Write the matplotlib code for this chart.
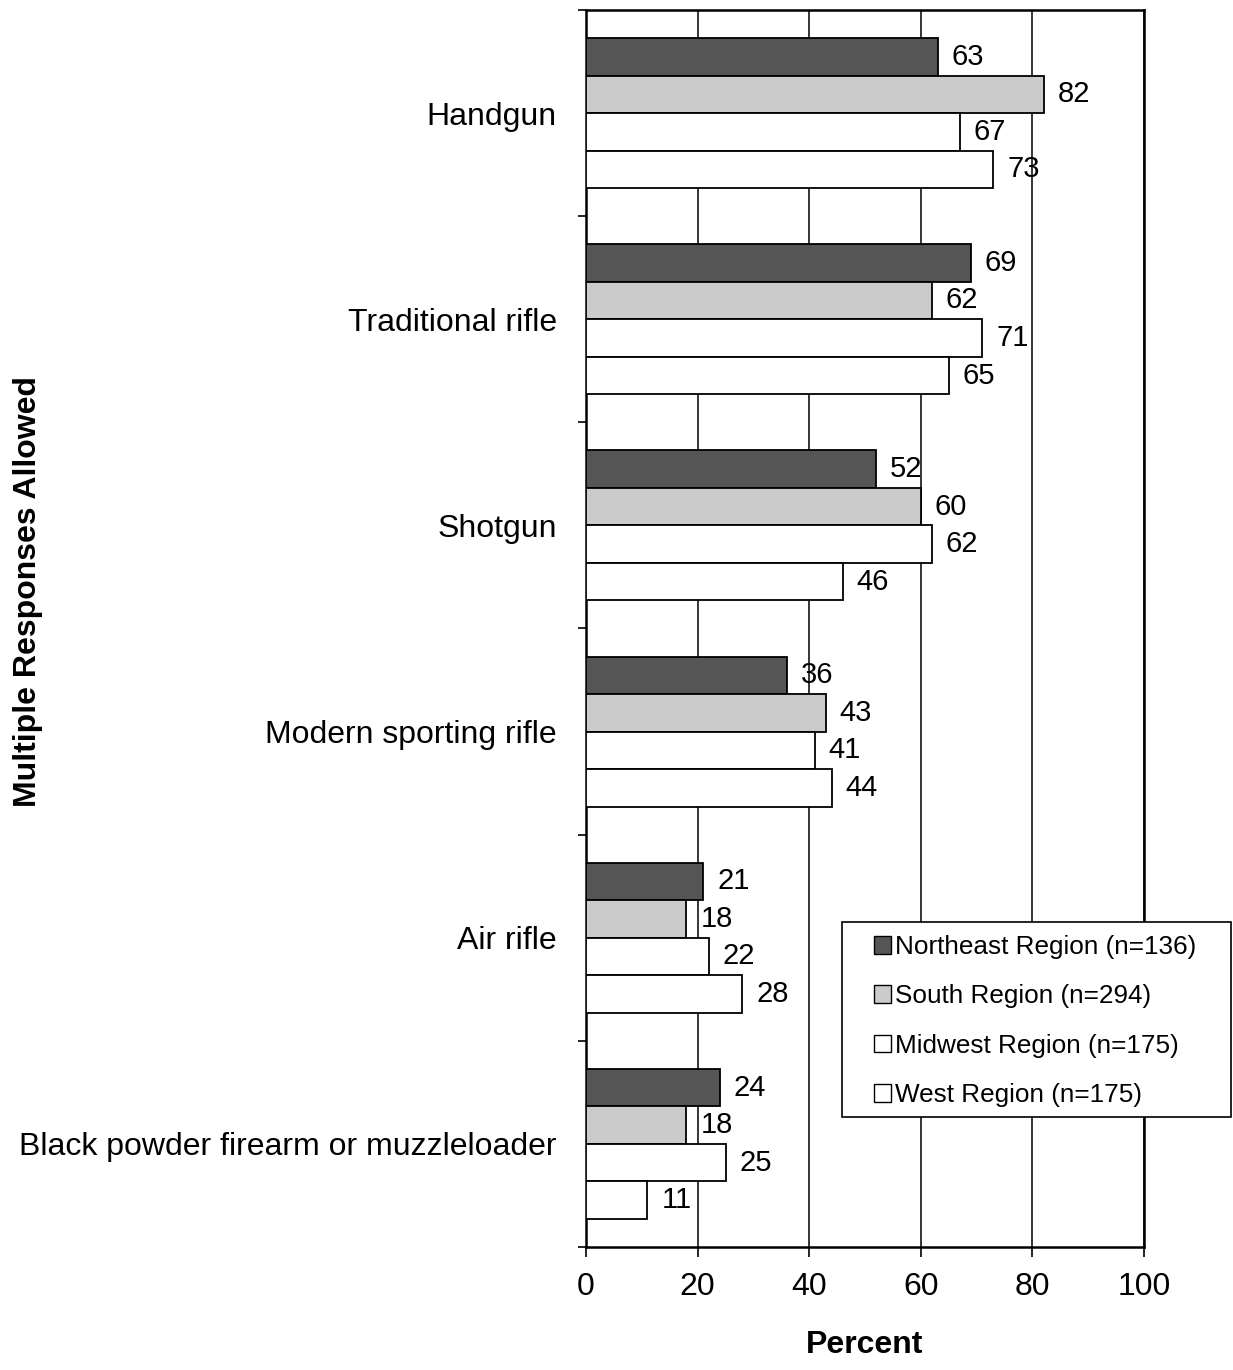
import numpy as np
import matplotlib.pyplot as plt
from matplotlib.patches import Patch, Rectangle

plt.rcParams['font.family'] = ['Liberation Sans', 'DejaVu Sans']

# Data
categories = ['Handgun', 'Traditional rifle', 'Shotgun', 'Modern sporting rifle',
              'Air rifle', 'Black powder firearm or muzzleloader']
northeast = [63, 69, 52, 36, 21, 24]
south = [82, 62, 60, 43, 18, 18]
midwest = [67, 71, 62, 41, 22, 25]
west = [73, 65, 46, 44, 28, 11]
series_names = ['Northeast Region (n=136)', 'South Region (n=294)',
                'Midwest Region (n=175)', 'West Region (n=175)']
x_ticks = [0, 20, 40, 60, 80, 100]

series = [northeast, south, midwest, west]
colors = ['#555555', '#cbcbcb', 'white', 'white']

W, H = 1233, 1370
fig = plt.figure(figsize=(W / 100, H / 100), dpi=100)
ax = fig.add_axes([0.4753, 0.0898, 0.4525, 0.9029])

n = len(categories)
y = np.arange(n)
bar_h = 0.182
offsets = (np.arange(4) - 1.5) * bar_h

for i, vals in enumerate(series):
    ypos = y + offsets[i]
    ax.barh(ypos, vals, height=bar_h, color=colors[i], edgecolor='black',
            linewidth=1.3, zorder=3)
    for yy, v in zip(ypos, vals):
        ax.annotate(str(v), (v, yy), xytext=(10, 0), textcoords='offset points',
                    va='center', ha='left', fontsize=21, zorder=4)

ax.set_xlim(0, 100)
ax.set_ylim(n - 0.5, -0.5)
ax.set_xticks(x_ticks)
ax.set_xticklabels([str(t) for t in x_ticks], fontsize=23)
ax.tick_params(axis='x', direction='out', length=7, width=1.2, pad=11)

# category boundaries as ticks, labels at centres
ax.set_yticks(np.arange(n + 1) - 0.5)
ax.set_yticklabels([])
ax.set_yticks(y, minor=True)
ax.set_yticklabels(categories, minor=True, fontsize=23)
ax.tick_params(axis='y', which='major', direction='out', length=6, width=1.2)
ax.tick_params(axis='y', which='minor', length=0, pad=21)

ax.xaxis.grid(True, color='black', linewidth=1.1, zorder=0)
for s in ax.spines.values():
    s.set_linewidth(1.8)

ax.set_xlabel('Percent', fontsize=23, fontweight='bold', labelpad=20)
fig.text(28 / W, 1 - 592 / H, 'Multiple Responses Allowed', rotation=90,
         fontsize=23, fontweight='bold', ha='center', va='center')

# legend box drawn separately so its padding matches the original
fig.patches.append(Rectangle((842 / W, 1 - 1117 / H), (1231 - 842) / W, 195 / H,
                             transform=fig.transFigure, facecolor='white',
                             edgecolor='black', linewidth=1.2, zorder=5))
handles = [Patch(facecolor=c, edgecolor='black', linewidth=1) for c in colors]
leg = fig.legend(handles, series_names, loc='upper left',
                 bbox_to_anchor=(874 / W, 1 - 935 / H), fontsize=18.8,
                 frameon=False, handlelength=0.65, handleheight=0.65,
                 handletextpad=0.15, labelspacing=0.97, borderpad=0,
                 borderaxespad=0)
leg.set_zorder(6)

fig.savefig('out.png', dpi=100, facecolor='white')
